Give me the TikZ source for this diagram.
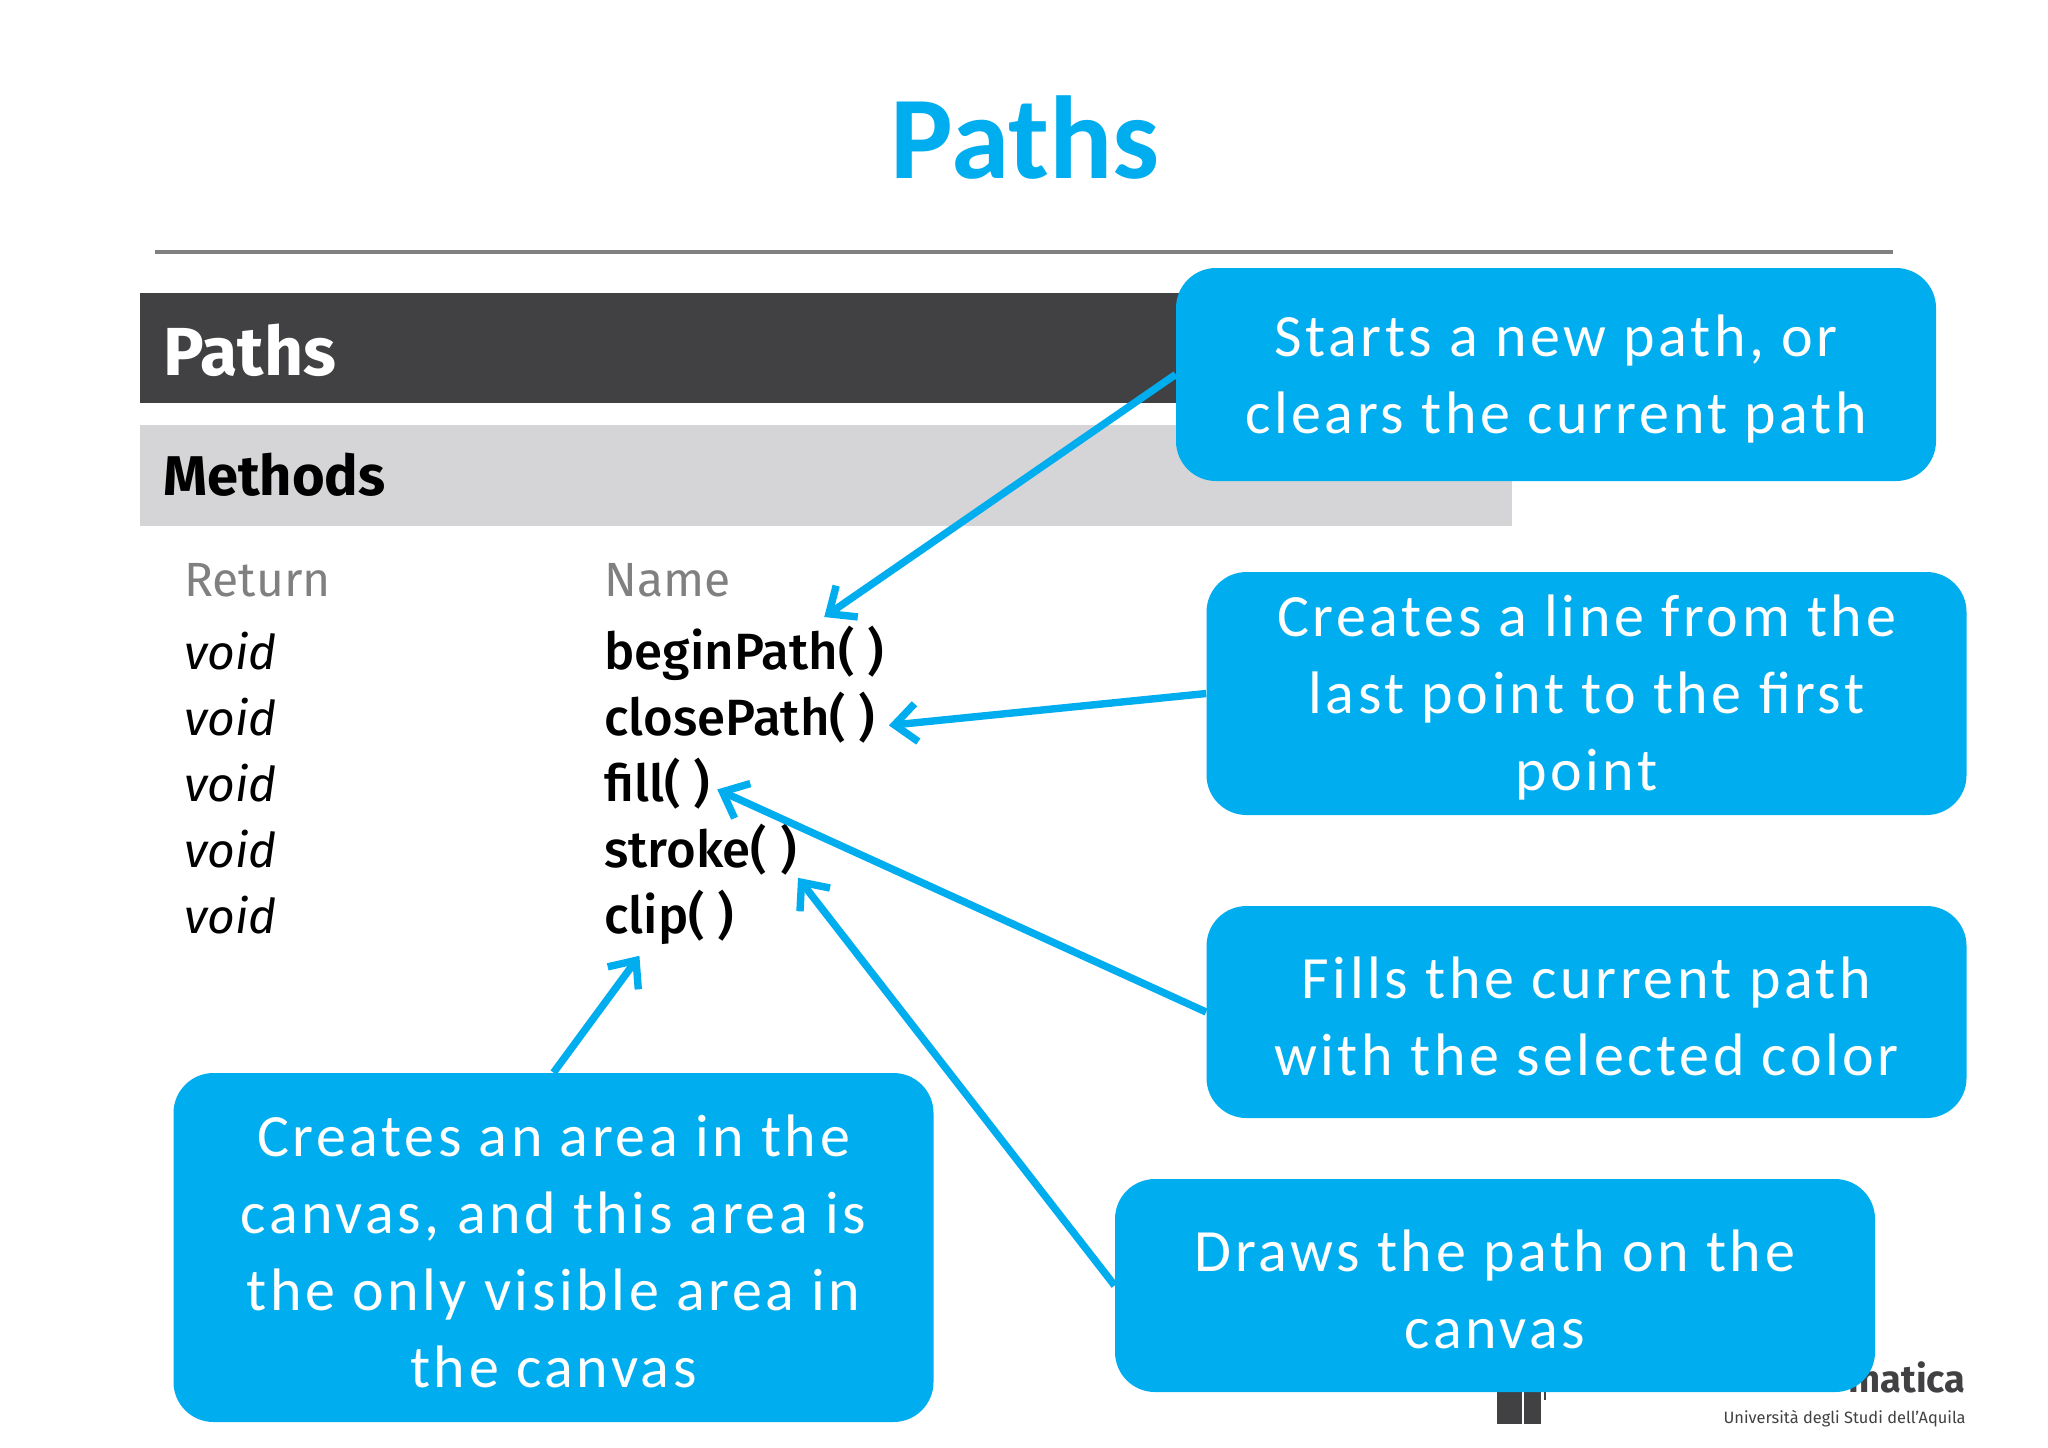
\documentclass[tikz,border=0pt]{standalone}
\usepackage{xcolor}
\usepackage{fontspec}
\usetikzlibrary{matrix,arrows.meta}
\setmainfont{Fira Sans}
\newfontfamily\namefont{Fira Sans Medium}
\newfontfamily\callfont[LetterSpace=6]{Carlito}
\newfontfamily\titlefont{Carlito}
\definecolor{callblue}{HTML}{00AEEF}
\definecolor{bardark}{HTML}{414042}
\definecolor{bargrey}{HTML}{D5D4D6}
\newcommand{\calltop}{\rule{0pt}{25pt}}
\tikzset{
	callbox/.style={fill=callblue, text=white, rounded corners=20pt, minimum width=380pt, inner sep=0pt, align=center, font=\callfont\fontsize{30}{38.5}\selectfont},
	callarrow/.style={draw=callblue, line width=3.7pt, -{Straight Barb[length=11pt, width=19pt, line width=3.7pt]}},
	barlabel/.style={anchor=west, inner sep=0pt, font=\bfseries\fontsize{34}{38}\selectfont},
	methodname/.style={font=\namefont\fontsize{25.5}{28}\selectfont}
}
\begin{document}
\begin{tikzpicture}[x=.5pt, y=-.5pt]
	\useasboundingbox (0,0) rectangle (2048,1447);
	\fill[white] (0,0) rectangle (2048,1447);
	\node[text=callblue, font=\titlefont\bfseries\fontsize{59}{70}\selectfont] (title) at (1025,138) {Paths};
	\draw[draw=gray, line width=2pt] (155,252) -- (1893,252);
	\fill[bardark] (140,293) rectangle (1512,403);
	\fill[bargrey] (140,425) rectangle (1512,526);
	\node[barlabel, text=white] (head) at (163,350) {Paths};
	\node[barlabel, text=black, font=\bfseries\fontsize{28}{32}\selectfont] (methods) at (163,475) {Methods};
	% method table
	\matrix(m)[matrix of nodes, anchor=north west, inner sep=0pt, row sep=0pt, column sep=0pt,
		nodes={anchor=west, inner sep=0pt, text height=18pt, text depth=6pt, minimum height=33pt, font=\fontsize{24}{28}\selectfont},
		column 1/.style={nodes={text width=210pt}}] at (184,551) {
		|[text=gray]|Return	&|[text=gray]|Name\\[3.5pt]
		\textit{void}	&|[methodname]|beginPath( )\\
		\textit{void}	&|[methodname]|closePath( )\\
		\textit{void}	&|[methodname]|fill( )\\
		\textit{void}	&|[methodname]|stroke( )\\
		\textit{void}	&|[methodname]|clip( )\\
	};
	% logo behind the boxes
	\fill[bardark] (1497,1385) rectangle (1522,1424);
	\fill[bardark] (1524,1385) rectangle (1541,1424);
	\fill[bardark] (1544,1385) rectangle (1546,1400);
	\node[anchor=east, inner sep=0pt, text=bardark, font=\bfseries\fontsize{19}{22}\selectfont] (dept) at (1966,1377) {matica};
	\node[anchor=east, inner sep=0pt, text=bardark, font=\fontsize{8.2}{10}\selectfont] (univ) at (1966,1419) {Università degli Studi dell'Aquila};
	% callouts
	\node[callbox, minimum height=106.5pt] (bbegin) at (1556,374.5) {\calltop Starts a new path, or\\clears the current path};
	\node[callbox, minimum height=121.5pt] (bclose) at (1586.5,693.5) {\calltop Creates a line from the\\last point to the first\\point};
	\node[callbox, minimum height=106pt] (bfill) at (1586.5,1012) {\calltop Fills the current path\\with the selected color};
	\node[callbox, minimum height=106.5pt] (bstroke) at (1495,1285.5) {\calltop Draws the path on the\\canvas};
	\node[callbox, minimum height=174.5pt] (bclip) at (553.5,1247.5) {\calltop Creates an area in the\\canvas, and this area is\\the only visible area in\\the canvas};
	\draw[callarrow] (bbegin.west) -- ([xshift=40pt,yshift=3.5pt]m-2-2.north);
	\draw[callarrow] (bclose.west) -- ([xshift=6.5pt,yshift=-1pt]m-3-2.east);
	\draw[callarrow] (bfill.west) -- ([xshift=3.3pt]m-4-2.east);
	\draw[callarrow] (bstroke.west) -- ([xshift=.5pt,yshift=5.5pt]m-5-2.south east);
	\draw[callarrow] (bclip.north) -- ([xshift=-15pt,yshift=-.5pt]m-6-2.south);
\end{tikzpicture}
\end{document}
